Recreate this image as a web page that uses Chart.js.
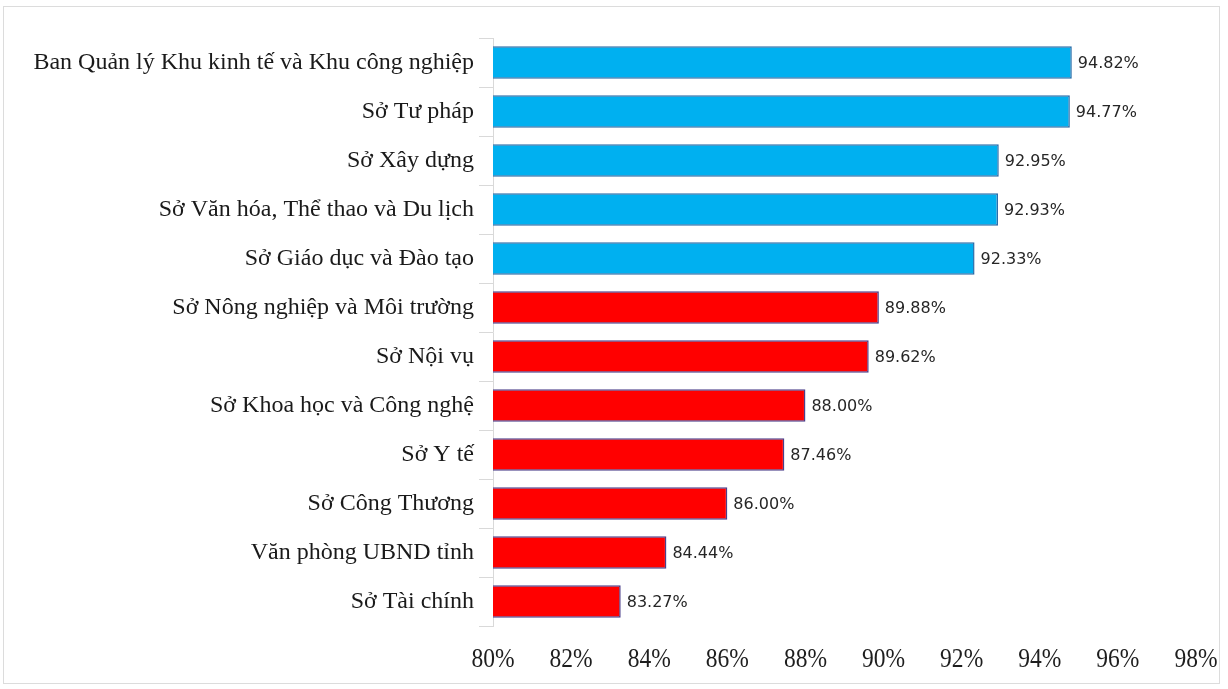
<!DOCTYPE html>
<html>
<head>
<meta charset="utf-8">
<script src="https://cdn.jsdelivr.net/npm/chart.js@4/dist/chart.umd.min.js"></script>
<style>
  html, body { margin: 0; padding: 0; background: #fff; }
  canvas { display: block; }
</style>
</head>
<body>
<canvas id="c" width="1228" height="689"></canvas>
<script>
const categories = [
  "Ban Quản lý Khu kinh tế và Khu công nghiệp",
  "Sở Tư pháp",
  "Sở Xây dựng",
  "Sở Văn hóa, Thể thao và Du lịch",
  "Sở Giáo dục và Đào tạo",
  "Sở Nông nghiệp và Môi trường",
  "Sở Nội vụ",
  "Sở Khoa học và Công nghệ",
  "Sở Y tế",
  "Sở Công Thương",
  "Văn phòng UBND tỉnh",
  "Sở Tài chính"
];
const scores = [94.82, 94.77, 92.95, 92.93, 92.33, 89.88, 89.62, 88.00, 87.46, 86.00, 84.44, 83.27];
const xTickValues = [80, 82, 84, 86, 88, 90, 92, 94, 96, 98];

// first five units are drawn in blue, the rest in red
const fillColors = scores.map((v, i) => i < 5 ? "#00B0F0" : "#FF0000");
const edgeColors = scores.map((v, i) => i < 5 ? "#2A6CA8" : "#4B3F8A");

// value text at the end of each bar
const valueLabels = {
  id: "valueLabels",
  afterDatasetsDraw(chart) {
    const ctx = chart.ctx;
    const meta = chart.getDatasetMeta(0);
    ctx.save();
    ctx.font = "16px 'DejaVu Sans'";
    ctx.fillStyle = "#262626";
    ctx.textAlign = "left";
    ctx.textBaseline = "middle";
    meta.data.forEach((bar, i) => {
      ctx.fillText(scores[i].toFixed(2) + "%", bar.x + 6, bar.y + 1);
    });
    ctx.restore();
  }
};

// slightly narrowed percentage labels under the value axis
const xAxisLabels = {
  id: "xAxisLabels",
  afterDraw(chart) {
    const ctx = chart.ctx;
    const xs = chart.scales.x;
    const y = xs.top + 34;
    ctx.save();
    ctx.font = "28px 'Liberation Serif'";
    ctx.fillStyle = "#1e1e1e";
    ctx.textAlign = "center";
    ctx.textBaseline = "middle";
    xTickValues.forEach(v => {
      ctx.save();
      ctx.translate(xs.getPixelForValue(v), y);
      ctx.scale(0.84, 1);
      ctx.fillText(v + "%", 0, 0);
      ctx.restore();
    });
    ctx.restore();
  }
};

const frame = {
  id: "frame",
  beforeDraw(chart) {
    const ctx = chart.ctx;
    ctx.save();
    ctx.fillStyle = "#fff";
    ctx.fillRect(0, 0, chart.width, chart.height);
    ctx.strokeStyle = "#dcdcdc";
    ctx.lineWidth = 1;
    ctx.strokeRect(3.5, 6.5, 1216, 677);
    ctx.restore();
  }
};

new Chart(document.getElementById("c"), {
  type: "bar",
  data: {
    labels: categories,
    datasets: [{
      data: scores,
      backgroundColor: fillColors,
      borderColor: edgeColors,
      borderWidth: 1.5,
      barPercentage: 0.66,
      categoryPercentage: 1.0
    }]
  },
  options: {
    indexAxis: "y",
    responsive: false,
    animation: false,
    layout: { padding: { left: 0, top: 38, right: 32, bottom: 0 } },
    plugins: { legend: { display: false }, tooltip: { enabled: false } },
    scales: {
      x: {
        min: 80,
        max: 98,
        afterBuildTicks(scale) { scale.ticks = xTickValues.map(v => ({ value: v })); },
        afterFit(scale) { scale.height = 63; },
        grid: { display: false, drawTicks: false },
        border: { display: false },
        ticks: { display: false }
      },
      y: {
        afterFit(scale) { scale.width = 493; },
        grid: {
          offset: true,
          drawOnChartArea: false,
          drawTicks: true,
          tickLength: 14,
          color: "#d9d9d9"
        },
        border: { display: true, color: "#d9d9d9" },
        ticks: {
          padding: 5,
          color: "#1a1a1a",
          font: { family: "'Liberation Serif'", size: 24 }
        }
      }
    }
  },
  plugins: [frame, valueLabels, xAxisLabels]
});
</script>
</body>
</html>
